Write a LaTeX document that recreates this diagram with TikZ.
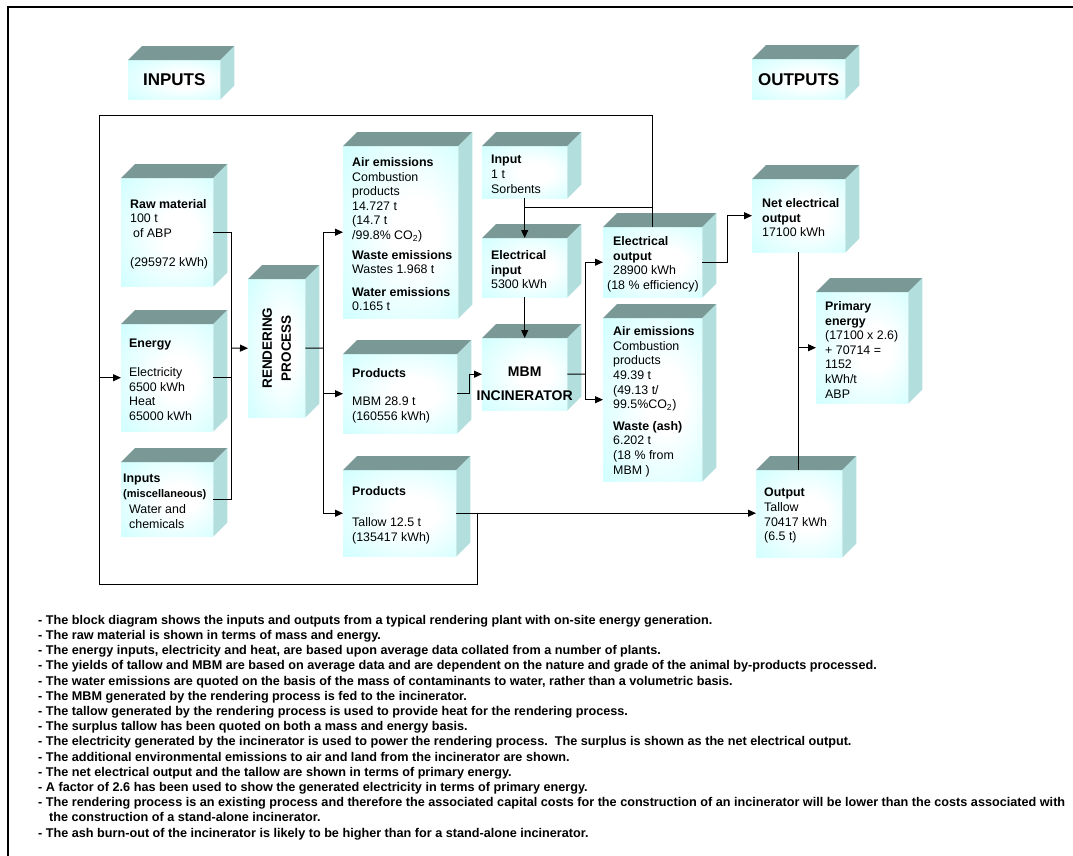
\documentclass[tikz,border=0pt]{standalone}
\usepackage{fontspec}
\setmainfont{Liberation Sans}
\usetikzlibrary{arrows.meta, positioning}

\definecolor{frontcyan}{RGB}{204,255,255}
\definecolor{topgrey}{RGB}{122,152,150}
\definecolor{sideblue}{RGB}{178,222,222}
\pgfdeclareradialshading{cubeglow}{\pgfpoint{8bp}{0bp}}{color(0bp)=(white); color(10bp)=(white); color(40bp)=(frontcyan); color(50bp)=(frontcyan)}

\begin{document}
\begin{tikzpicture}[x=1pt, y=-1pt,
cube/.style={anchor=north west, inner sep=0pt, shading=cubeglow},
title/.style={font=\bfseries\fontsize{17}{20}\selectfont},
boxtext/.style={anchor=west, align=left, inner sep=0pt, yshift=-2pt,
    font=\fontsize{12.4}{14.6}\selectfont},
notes/.style={anchor=north west, align=left, inner sep=0pt,
    font=\bfseries\fontsize{12.65}{15.2}\selectfont},
line/.style={draw, line width=1pt},
arrow/.style={line, -{Triangle[length=8pt, width=7pt]}}
]
\useasboundingbox (0,0) rectangle (1073,855);
\draw[line width=2.2pt] (7.7,870) -- (7.7,7.3) -- (1085,7.3);

% blocks (front faces)
\node[cube, minimum width=92pt, minimum height=39pt] (inputs) at (128,60) {};
\node[cube, minimum width=93pt, minimum height=40pt] (outputs) at (752,59) {};
\node[cube, minimum width=92pt, minimum height=108pt] (raw) at (121,178) {};
\node[cube, minimum width=92pt, minimum height=107pt] (energy) at (121,324) {};
\node[cube, minimum width=92pt, minimum height=74pt] (misc) at (121,462) {};
\node[cube, minimum width=57pt, minimum height=138pt] (rend) at (248,279) {};
\node[cube, minimum width=115pt, minimum height=172pt] (air1) at (343,146) {};
\node[cube, minimum width=114pt, minimum height=79pt] (mbm) at (343,354) {};
\node[cube, minimum width=113pt, minimum height=86pt] (tal) at (343,470) {};
\node[cube, minimum width=85pt, minimum height=52pt] (sorb) at (482,146) {};
\node[cube, minimum width=85pt, minimum height=59pt] (elin) at (482,238) {};
\node[cube, minimum width=85pt, minimum height=72pt] (inc) at (482,338) {};
\node[cube, minimum width=99pt, minimum height=70pt] (elout) at (603,227) {};
\node[cube, minimum width=99pt, minimum height=163pt] (air2) at (603,318) {};
\node[cube, minimum width=93pt, minimum height=73pt] (netel) at (752,179) {};
\node[cube, minimum width=92pt, minimum height=111pt] (prim) at (816,292) {};
\node[cube, minimum width=86pt, minimum height=87pt] (outtal) at (756,470) {};

% top and side faces
\foreach \n in {inputs,outputs,raw,energy,misc,rend,air1,mbm,tal,sorb,elin,inc,elout,air2,netel,prim,outtal} {
  \fill[topgrey] (\n.north west) -- ++(14,-14) -- ([shift={(14,-14)}]\n.north east) -- (\n.north east) -- cycle;
  \fill[sideblue] (\n.north east) -- ++(14,-14) -- ([shift={(14,-14)}]\n.south east) -- (\n.south east) -- cycle;
}

% texts
\node[title] (inputs-t) at (inputs) {INPUTS};
\node[title] (outputs-t) at (outputs) {OUTPUTS};
\node[boxtext, right=9pt of raw.west] (raw-t) {\textbf{Raw material}\\100 t\\\hspace*{3pt}of ABP\\[14.6pt](295972 kWh)};
\node[boxtext, right=8pt of energy.west] (energy-t) {\textbf{Energy}\\[14.6pt]Electricity\\6500 kWh\\Heat\\65000 kWh};
\node[boxtext, right=2pt of misc.west] (misc-t) {\textbf{Inputs}\\{\bfseries\fontsize{11}{13}\selectfont (miscellaneous)}\\[2pt]\hspace*{6pt}Water and\\\hspace*{6pt}chemicals};
\node[rotate=90, align=center, font=\bfseries\fontsize{13.5}{19}\selectfont] (rend-t) at (rend) {RENDERING\\PROCESS};
\node[boxtext, right=9pt of air1.west] (air1-t) {\textbf{Air emissions}\\Combustion\\products\\14.727 t\\(14.7 t\\/99.8\% CO\textsubscript{2})\\[5pt]\textbf{Waste emissions}\\Wastes 1.968 t\\[8pt]\textbf{Water emissions}\\0.165 t};
\node[boxtext, right=9pt of mbm.west] (mbm-t) {\textbf{Products}\\[13.4pt]MBM 28.9 t\\(160556 kWh)};
\node[boxtext, right=9pt of tal.west] (tal-t) {\textbf{Products}\\[16.4pt]Tallow 12.5 t\\(135417 kWh)};
\node[boxtext, right=9pt of sorb.west] (sorb-t) {\textbf{Input}\\1 t\\Sorbents};
\node[boxtext, right=9pt of elin.west] (elin-t) {\textbf{Electrical}\\\textbf{input}\\5300 kWh};
\node[align=center, yshift=-10pt, font=\bfseries\fontsize{14}{16}\selectfont] (inc-t) at (inc) {MBM\\[8pt]INCINERATOR};
\node[boxtext, right=10pt of elout.west] (elout-t) {\textbf{Electrical}\\\textbf{output}\\28900 kWh\\\hspace*{-6pt}(18 \% efficiency)};
\node[boxtext, right=10pt of air2.west] (air2-t) {\textbf{Air emissions}\\Combustion\\products\\49.39 t\\(49.13 t/\\99.5\%CO\textsubscript{2})\\[7pt]\textbf{Waste (ash)}\\6.202 t\\(18 \% from\\MBM )};
\node[boxtext, right=10pt of netel.west] (netel-t) {\textbf{Net electrical}\\\textbf{output}\\17100 kWh};
\node[boxtext, right=9pt of prim.west] (prim-t) {\textbf{Primary}\\\textbf{energy}\\(17100 x 2.6)\\+ 70714 =\\1152\\kWh/t\\ABP};
\node[boxtext, right=8pt of outtal.west] (outtal-t) {\textbf{Output}\\Tallow\\70417 kWh\\(6.5 t)};

% inputs into rendering
\coordinate (inbus) at (231,348);
\draw[line] (raw.east) -| (inbus);
\draw[line] (misc.east) -| (inbus);
\draw[line] (energy.east) -- (energy.east -| inbus);
\draw[arrow] (inbus) -- (rend.west);

% rendering outputs
\coordinate (outbus) at (323,348);
\draw[line] (rend.east) -- (outbus);
\draw[arrow] (outbus) |- (air1.west);
\draw[arrow] (outbus) |- (mbm.west);
\draw[arrow] (outbus) |- (tal.west);

% incinerator
\draw[arrow] (mbm.east) -- ++(12,0) |- (inc.west);
\draw[arrow] (sorb.south) -- (elin.north);
\draw[arrow] (elin.south) -- (inc.north);
\coordinate (incbus) at (585,374);
\draw[line] (inc.east) -- (incbus);
\draw[arrow] (incbus) |- (elout.west);
\draw[arrow] (incbus) |- (air2.west);

% outputs
\draw[arrow] (elout.east) -- ++(25,0) |- (netel.west);
\draw[line] (netel.south) -- (netel.south |- outtal.north);
\draw[arrow] (netel.south |- prim.west) -- (prim.west);
\draw[arrow] (tal.east) -- (tal.east -| outtal.west);

% system boundary / feedback
\coordinate (sb-tl) at (99,115);
\coordinate (sb-bl) at (99,584);
\coordinate (sb-br) at (477,584);
\coordinate (sj) at ([yshift=-9pt]sorb.south);
\draw[line] (elout.north) -- (elout.north |- sb-tl) -- (sb-tl) -- (sb-bl) -- (sb-br) -- (sb-br |- tal.east);
\draw[line] (sj) -- (sj -| elout.north);
\draw[arrow] (energy.west -| sb-tl) -- (energy.west);

% notes
\node[notes] (notes) at (38,615) {%
- The block diagram shows the inputs and outputs from a typical rendering plant with on-site energy generation.\\
- The raw material is shown in terms of mass and energy.\\
- The energy inputs, electricity and heat, are based upon average data collated from a number of plants.\\
- The yields of tallow and MBM are based on average data and are dependent on the nature and grade of the animal by-products processed.\\
- The water emissions are quoted on the basis of the mass of contaminants to water, rather than a volumetric basis.\\
- The MBM generated by the rendering process is fed to the incinerator.\\
- The tallow generated by the rendering process is used to provide heat for the rendering process.\\
- The surplus tallow has been quoted on both a mass and energy basis.\\
- The electricity generated by the incinerator is used to power the rendering process.\ \ The surplus is shown as the net electrical output.\\
- The additional environmental emissions to air and land from the incinerator are shown.\\
- The net electrical output and the tallow are shown in terms of primary energy.\\
- A factor of 2.6 has been used to show the generated electricity in terms of primary energy.\\
- The rendering process is an existing process and therefore the associated capital costs for the construction of an incinerator will be lower than the costs associated with\\
\hspace*{11pt}the construction of a stand-alone incinerator.\\
- The ash burn-out of the incinerator is likely to be higher than for a stand-alone incinerator.};
\end{tikzpicture}
\end{document}
